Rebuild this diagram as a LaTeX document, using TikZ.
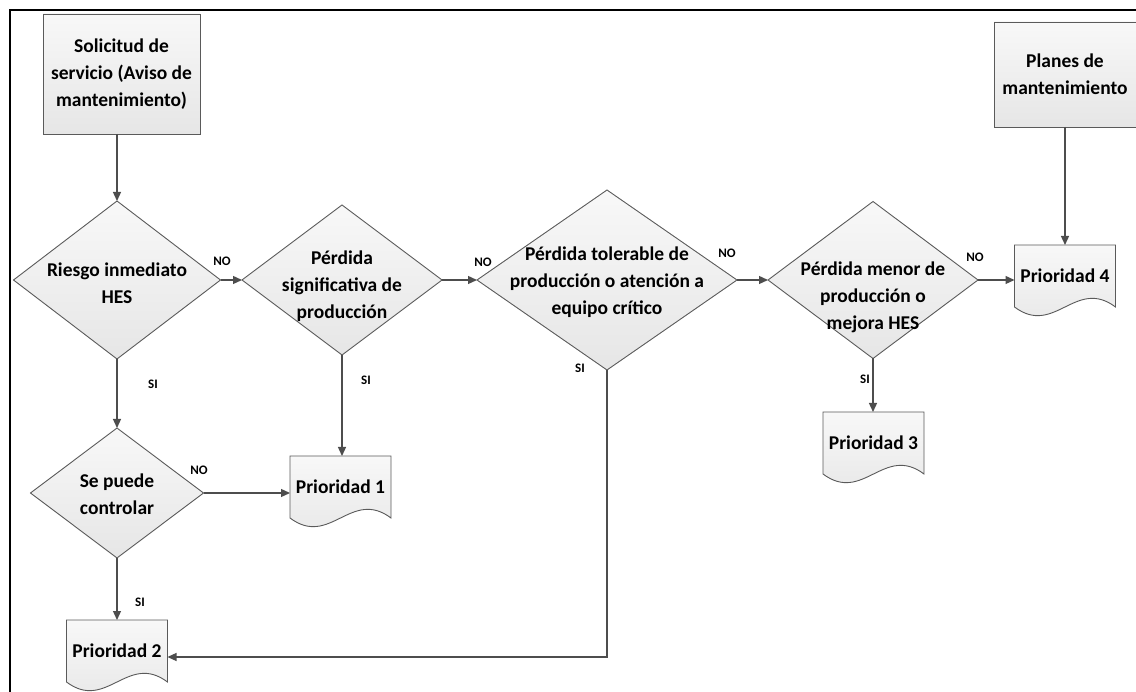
\documentclass[tikz,border=0pt]{standalone}
\usepackage{fontspec}
\setmainfont{Carlito}
\usetikzlibrary{arrows.meta,calc,shapes.geometric,backgrounds}

\definecolor{edgegray}{HTML}{5A5A5A}
\definecolor{linegray}{HTML}{4D4D4D}
\definecolor{filltop}{HTML}{F8F8F8}
\definecolor{fillbot}{HTML}{E6E6E6}

\tikzset{
  shapefill/.style={top color=filltop, bottom color=fillbot},
  outline/.style={draw=edgegray, line width=0.9pt},
  dia/.style={diamond, outline, shapefill, inner sep=0pt, outer sep=0pt},
  procbox/.style={rectangle, outline, shapefill, inner sep=0pt, outer sep=0pt,
    align=center, font=\bfseries\fontsize{19.5}{27}\selectfont},
  doc/.style={rectangle, draw=none, inner sep=0pt, outer sep=0pt,
    minimum width=101pt, minimum height=62pt,
    font=\bfseries\fontsize{19.5}{27}\selectfont},
  dtext/.style={align=center, inner sep=0pt, font=\bfseries\fontsize{19.5}{27}\selectfont},
  lbl/.style={inner sep=0pt, font=\bfseries\fontsize{13}{15}\selectfont},
  arr/.style={draw=linegray, line width=1.3pt, -{Triangle[length=9pt,width=8pt]}},
  frame/.style={draw=black, line width=2.5pt}
}

% document symbol drawn behind its text node
\newcommand\docoutline[1]{%
  \draw[outline, shapefill] (#1.north west) -- (#1.north east) -- (#1.south east)
    .. controls ($(#1.south east)+(-40,-30)$) and ($(#1.south west)+(40,30)$) ..
    (#1.south west) -- cycle;}

\begin{document}
\begin{tikzpicture}[x=1pt, y=-1pt]
  \useasboundingbox (0,0) rectangle (1136,692);

  % page frame
  \draw[frame] (10,693) -- (10,10) -- (1137,10);

  % start boxes
  \node[procbox, minimum width=157pt, minimum height=120pt] (sol) at (121.5,74)
    {Solicitud de\\servicio (Aviso de\\mantenimiento)};
  \node[procbox, minimum width=142pt, minimum height=105pt] (plan) at (1065,74.5)
    {Planes de\\mantenimiento};

  % decisions
  \node[dia, minimum width=207pt, minimum height=158pt] (d1) at (117,280) {};
  \node[dia, minimum width=200pt, minimum height=150pt] (d2) at (342,280) {};
  \node[dia, minimum width=260pt, minimum height=180pt] (d3) at (607,280) {};
  \node[dia, minimum width=210pt, minimum height=157pt] (d4) at (873,280) {};
  \node[dia, minimum width=173pt, minimum height=130pt] (d5) at (117,493) {};

  \node[dtext] (d1t) at (117,283) {Riesgo inmediato\\HES};
  \node[dtext] (d2t) at (342,286) {Pérdida\\significativa de\\producción};
  \node[dtext] (d3t) at (607,282) {Pérdida tolerable de\\producción o atención a\\equipo crítico};
  \node[dtext] (d4t) at (873,297) {Pérdida menor de\\producción o\\mejora HES};
  \node[dtext] (d5t) at (117,494) {Se puede\\controlar};

  % outcomes
  \node[doc] (p1) at (340.5,487) {Prioridad 1};
  \node[doc] (p2) at (117,651) {Prioridad 2};
  \node[doc] (p3) at (873.5,443) {Prioridad 3};
  \node[doc] (p4) at (1065,276) {Prioridad 4};

  \begin{scope}[on background layer]
    \docoutline{p1}
    \docoutline{p2}
    \docoutline{p3}
    \docoutline{p4}
  \end{scope}

  % connectors
  \draw[arr] (d1.north |- sol.south) -- (d1.north);
  \draw[arr] (d1.east) -- (d2.west);
  \draw[arr] (d2.east) -- (d3.west);
  \draw[arr] (d3.east) -- (d4.west);
  \draw[arr] (d4.east) -- (d4.east -| p4.west);
  \draw[arr] (plan.south) -- (p4.north);
  \draw[arr] (d1.south) -- (d5.north);
  \draw[arr] (d2.south) -- (d2.south |- p1.north);
  \draw[arr] (d4.south) -- (d4.south |- p3.north);
  \draw[arr] (d5.east) -- (d5.east -| p1.west);
  \draw[arr] (d5.south) -- (d5.south |- p2.north);
  \draw[arr] (d3.south) |- ($(p2.east)+(0,6)$);

  % branch labels
  \node[lbl] (n1) at (222,261) {NO};
  \node[lbl] (n2) at (483,262) {NO};
  \node[lbl] (n3) at (727,253) {NO};
  \node[lbl] (n4) at (975,257) {NO};
  \node[lbl] (n5) at (199,470) {NO};
  \node[lbl] (s1) at (153,384) {SI};
  \node[lbl] (s2) at (366,380) {SI};
  \node[lbl] (s3) at (580,368) {SI};
  \node[lbl] (s4) at (865,379) {SI};
  \node[lbl] (s5) at (140,602) {SI};
\end{tikzpicture}
\end{document}
